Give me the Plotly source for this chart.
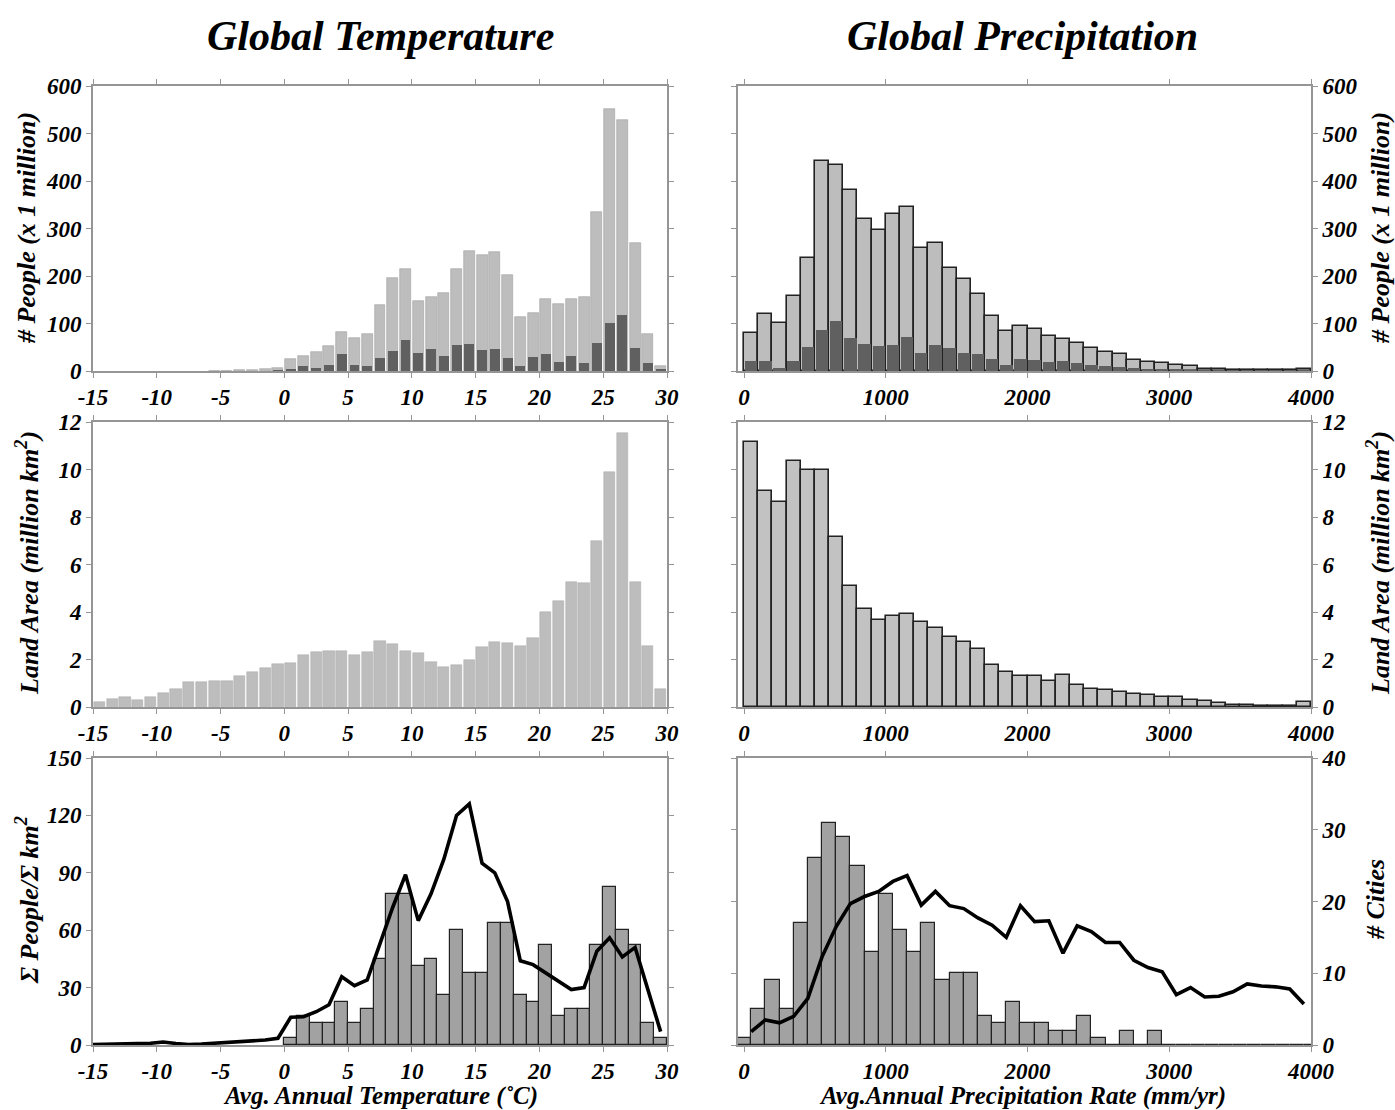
import plotly.graph_objects as go

# ---------------- data ----------------
# Temperature bins (1 degC wide), left edges
temp_pop_bins = list(range(-6, 30))
temp_pop_total = [1, 1, 2, 3, 4, 6,
                  26, 31, 40, 52, 82, 69, 77, 139, 196, 215,
                  147, 155, 165, 214, 252, 244, 251, 203, 114, 123,
                  151, 141, 151, 156, 334, 551, 528, 270, 77, 10]
temp_pop_urban = [0, 0, 0, 0, 0, 1,
                  4, 10, 7, 13, 35, 13, 11, 27, 42, 65,
                  37, 47, 32, 54, 56, 44, 46, 27, 11, 29,
                  36, 20, 31, 16, 58, 102, 117, 49, 16, 4]

temp_area_bins = list(range(-15, 30))
temp_area = [0.20, 0.34, 0.44, 0.31, 0.41, 0.58, 0.77, 1.07, 1.04, 1.11,
             1.11, 1.32, 1.47, 1.64, 1.80, 1.84, 2.20, 2.30, 2.37, 2.34,
             2.20, 2.32, 2.76, 2.64, 2.37, 2.27, 1.91, 1.67, 1.78, 1.98,
             2.53, 2.75, 2.71, 2.57, 2.92, 4.01, 4.45, 5.28, 5.22, 6.99,
             9.91, 11.52, 5.28, 2.57, 0.77]

temp_city_bins = list(range(0, 30))
temp_cities = [1, 4, 3, 3, 6, 3, 5, 12, 21, 21,
               11, 12, 7, 16, 10, 10, 17, 17, 7, 6,
               14, 4, 5, 5, 14, 22, 16, 14, 3, 1]

temp_density_x = [-15.0] + [-14.5 + i for i in range(45)]
temp_density = [0.3, 0.3, 0.4, 0.5, 0.7, 0.9, 1.6, 0.8, 0.3, 0.5, 0.9,
                1.2, 1.5, 2.0, 2.6, 3.5, 14.5, 14.8, 17.4, 21.0, 35.7,
                31.0, 34.0, 53.0, 72.0, 89.0, 65.0, 79.0, 97.0, 120.0, 126.0,
                95.0, 90.0, 75.0, 44.0, 42.0, 37.5, 33.0, 29.0, 30.0, 49.0,
                56.0, 46.0, 51.0, 29.0, 7.0]

# Precipitation bins (100 mm/yr wide), left edges
prec_bins = list(range(0, 4000, 100))
prec_pop_total = [80, 121, 102, 158, 238, 442, 433, 381, 320, 297,
                  330, 346, 259, 269, 216, 194, 163, 115, 85, 95,
                  88, 73, 68, 60, 48, 40, 35, 24, 20, 16,
                  12, 10, 5, 4, 3, 2, 2, 1.5, 1.5, 5]
prec_pop_urban = [21, 22, 6, 22, 51, 86, 105, 70, 56, 53,
                  54, 72, 37, 54, 49, 37, 36, 26, 13, 25,
                  24, 18, 22, 17, 12, 10, 8, 6, 4, 3,
                  3, 2, 1, 1, 1, 1, 1, 1, 1, 1]
prec_area = [11.17, 9.09, 8.63, 10.37, 10.00, 9.96, 7.16, 5.11, 4.11, 3.66,
             3.82, 3.92, 3.56, 3.31, 2.96, 2.72, 2.43, 1.78, 1.47, 1.29,
             1.31, 1.09, 1.35, 0.94, 0.77, 0.70, 0.63, 0.56, 0.49, 0.41,
             0.41, 0.31, 0.24, 0.17, 0.10, 0.07, 0.06, 0.03, 0.03, 0.22]

prec_city_centers = list(range(0, 4100, 100))
prec_cities = [1, 5, 9, 5, 17, 26, 31, 29, 25, 13,
               21, 16, 13, 17, 9, 10, 10, 4, 3, 6,
               3, 3, 2, 2, 4, 1, 0, 2, 0, 2,
               0, 0, 0, 0, 0, 0, 0, 0, 0, 0, 0]

prec_density_x = [50 + 100 * i for i in range(40)]
prec_density = [7.0, 13.1, 11.6, 15.0, 24.4, 46.1, 61.9, 73.9, 77.6, 80.3,
                85.5, 88.5, 73.1, 80.3, 72.8, 71.3, 66.4, 62.6, 56.3, 72.8,
                64.5, 64.9, 48.0, 62.3, 59.3, 53.6, 53.6, 44.3, 40.5, 38.3,
                26.3, 30.0, 25.1, 25.5, 27.8, 31.9, 30.8, 30.4, 29.3, 21.4]

# tick labels
temp_ticks = [-15, -10, -5, 0, 5, 10, 15, 20, 25, 30]
temp_tick_labels = ["-15", "-10", "-5", "0", "5", "10", "15", "20", "25", "30"]
prec_ticks = [0, 1000, 2000, 3000, 4000]
prec_tick_labels = ["0", "1000", "2000", "3000", "4000"]
people_ticks = [0, 100, 200, 300, 400, 500, 600]
area_ticks = [0, 2, 4, 6, 8, 10, 12]
density_ticks = [0, 30, 60, 90, 120, 150]
city_ticks = [0, 10, 20, 30, 40]

# ---------------- styling helpers ----------------
W, H = 1395, 1110
FONT = "Liberation Serif"
LIGHT = "#bdbdbd"
DARK = "#606060"
MID = "#a2a2a2"
FRAME = "#959595"


def px_x(a, b):
    return [a / W, b / W]


def px_y(top, bottom):
    return [1 - bottom / H, 1 - top / H]


LX = px_x(93, 667)
RX = px_x(738, 1311)
ROW1 = px_y(86, 371)
ROW2 = px_y(422, 707)
ROW3 = px_y(758, 1045)

tickfont = dict(family=FONT, size=23, color="black", weight="bold", style="italic")

fig = go.Figure()

# top-left
fig.add_bar(x=[b + 0.5 for b in temp_pop_bins], y=temp_pop_total, width=0.86,
            marker=dict(color=LIGHT, line=dict(color="#a0a0a0", width=0.6)),
            xaxis="x", yaxis="y")
fig.add_bar(x=[b + 0.5 for b in temp_pop_bins], y=temp_pop_urban, width=0.78,
            marker=dict(color=DARK, line=dict(width=0)), xaxis="x", yaxis="y")
# top-right
fig.add_bar(x=[b + 50 for b in prec_bins], y=prec_pop_total, width=100,
            marker=dict(color=LIGHT, line=dict(color="#222222", width=1.6)),
            xaxis="x2", yaxis="y2")
fig.add_bar(x=[b + 50 for b in prec_bins], y=prec_pop_urban, width=88,
            marker=dict(color=DARK, line=dict(width=0)), xaxis="x2", yaxis="y2")
# middle-left
fig.add_bar(x=[b + 0.5 for b in temp_area_bins], y=temp_area, width=0.88,
            marker=dict(color=LIGHT, line=dict(color="#a8a8a8", width=0.5)),
            xaxis="x3", yaxis="y3")
# middle-right
fig.add_bar(x=[b + 50 for b in prec_bins], y=prec_area, width=100,
            marker=dict(color="#c2c2c2", line=dict(color="#222222", width=1.6)),
            xaxis="x4", yaxis="y4")
# bottom-left
fig.add_bar(x=[b + 0.5 for b in temp_city_bins], y=temp_cities, width=1.0,
            marker=dict(color=MID, line=dict(color="#222222", width=1.2)),
            xaxis="x5", yaxis="y5")
fig.add_scatter(x=temp_density_x, y=temp_density, mode="lines",
                line=dict(color="black", width=3.6), xaxis="x5", yaxis="y7")
# bottom-right
fig.add_bar(x=prec_city_centers, y=prec_cities, width=100,
            marker=dict(color=MID, line=dict(color="#222222", width=1.2)),
            xaxis="x6", yaxis="y6")
fig.add_scatter(x=prec_density_x, y=prec_density, mode="lines",
                line=dict(color="black", width=3.6), xaxis="x6", yaxis="y8")

common_axis = dict(showline=True, linecolor=FRAME, linewidth=1.6, mirror="ticks",
                   ticks="outside", ticklen=5, tickcolor=FRAME, tickwidth=1,
                   showgrid=False, zeroline=False, tickfont=tickfont,
                   automargin=False)


def xa(domain, anchor, rng, vals, labels):
    d = dict(common_axis)
    d.update(domain=domain, anchor=anchor, range=rng, tickmode="array",
             tickvals=vals, ticktext=labels)
    return d


def ya(domain, anchor, rng, vals, side="left", **kw):
    d = dict(common_axis)
    d.update(domain=domain, anchor=anchor, range=rng, tickmode="array",
             tickvals=vals, ticktext=[str(v) for v in vals], side=side)
    d.update(kw)
    return d


layout = dict(
    width=W, height=H, margin=dict(l=0, r=0, t=0, b=0, autoexpand=False),
    paper_bgcolor="white", plot_bgcolor="white", showlegend=False,
    barmode="overlay", bargap=0,
    xaxis=xa(LX, "y", [-15, 30], temp_ticks, temp_tick_labels),
    yaxis=ya(ROW1, "x", [0, 600], people_ticks),
    xaxis2=xa(RX, "y2", [-43, 4000], prec_ticks, prec_tick_labels),
    yaxis2=ya(ROW1, "x2", [0, 600], people_ticks, side="right"),
    xaxis3=xa(LX, "y3", [-15, 30], temp_ticks, temp_tick_labels),
    yaxis3=ya(ROW2, "x3", [0, 12], area_ticks),
    xaxis4=xa(RX, "y4", [-43, 4000], prec_ticks, prec_tick_labels),
    yaxis4=ya(ROW2, "x4", [0, 12], area_ticks, side="right"),
    xaxis5=xa(LX, "y5", [-15, 30], temp_ticks, temp_tick_labels),
    yaxis5=dict(domain=ROW3, anchor="x5", range=[0, 40], visible=False,
                automargin=False),
    yaxis7=ya(ROW3, "x5", [0, 150], density_ticks, overlaying="y5"),
    xaxis6=xa(RX, "y6", [-43, 4000], prec_ticks, prec_tick_labels),
    yaxis6=ya(ROW3, "x6", [0, 40], city_ticks, side="right"),
    yaxis8=dict(domain=ROW3, anchor="x6", range=[0, 150], overlaying="y6",
                visible=False, automargin=False),
)
fig.update_layout(**layout)

title_font = dict(family=FONT, size=42, color="black", weight="bold", style="italic")
xlab_font = dict(family=FONT, size=25, color="black", weight="bold", style="italic")
ylab_font = dict(family=FONT, size=26, color="black", weight="bold", style="italic")


def ann(text, xpx, ypx, font, angle=0):
    fig.add_annotation(text=text, x=xpx / W, y=1 - ypx / H, xref="paper", yref="paper",
                       showarrow=False, font=font, textangle=angle,
                       xanchor="center", yanchor="middle")


ann("Global Temperature", 380, 36, title_font)
ann("Global Precipitation", 1023, 36, title_font)
ann("# People (x 1 million)", 26, 228, ylab_font, -90)
ann("Land Area (million km<sup>2</sup>)", 27, 563, ylab_font, -90)
ann("Σ People/Σ km<sup>2</sup>", 27, 900, ylab_font, -90)
ann("# People (x 1 million)", 1380, 228, ylab_font, -90)
ann("Land Area (million km<sup>2</sup>)", 1378, 563, ylab_font, -90)
ann("# Cities", 1375, 900, ylab_font, -90)
ann("Avg. Annual Temperature (˚C)", 380, 1096, xlab_font)
ann("Avg.Annual Precipitation Rate (mm/yr)", 1023, 1096, xlab_font)

fig.write_html("out.html")
